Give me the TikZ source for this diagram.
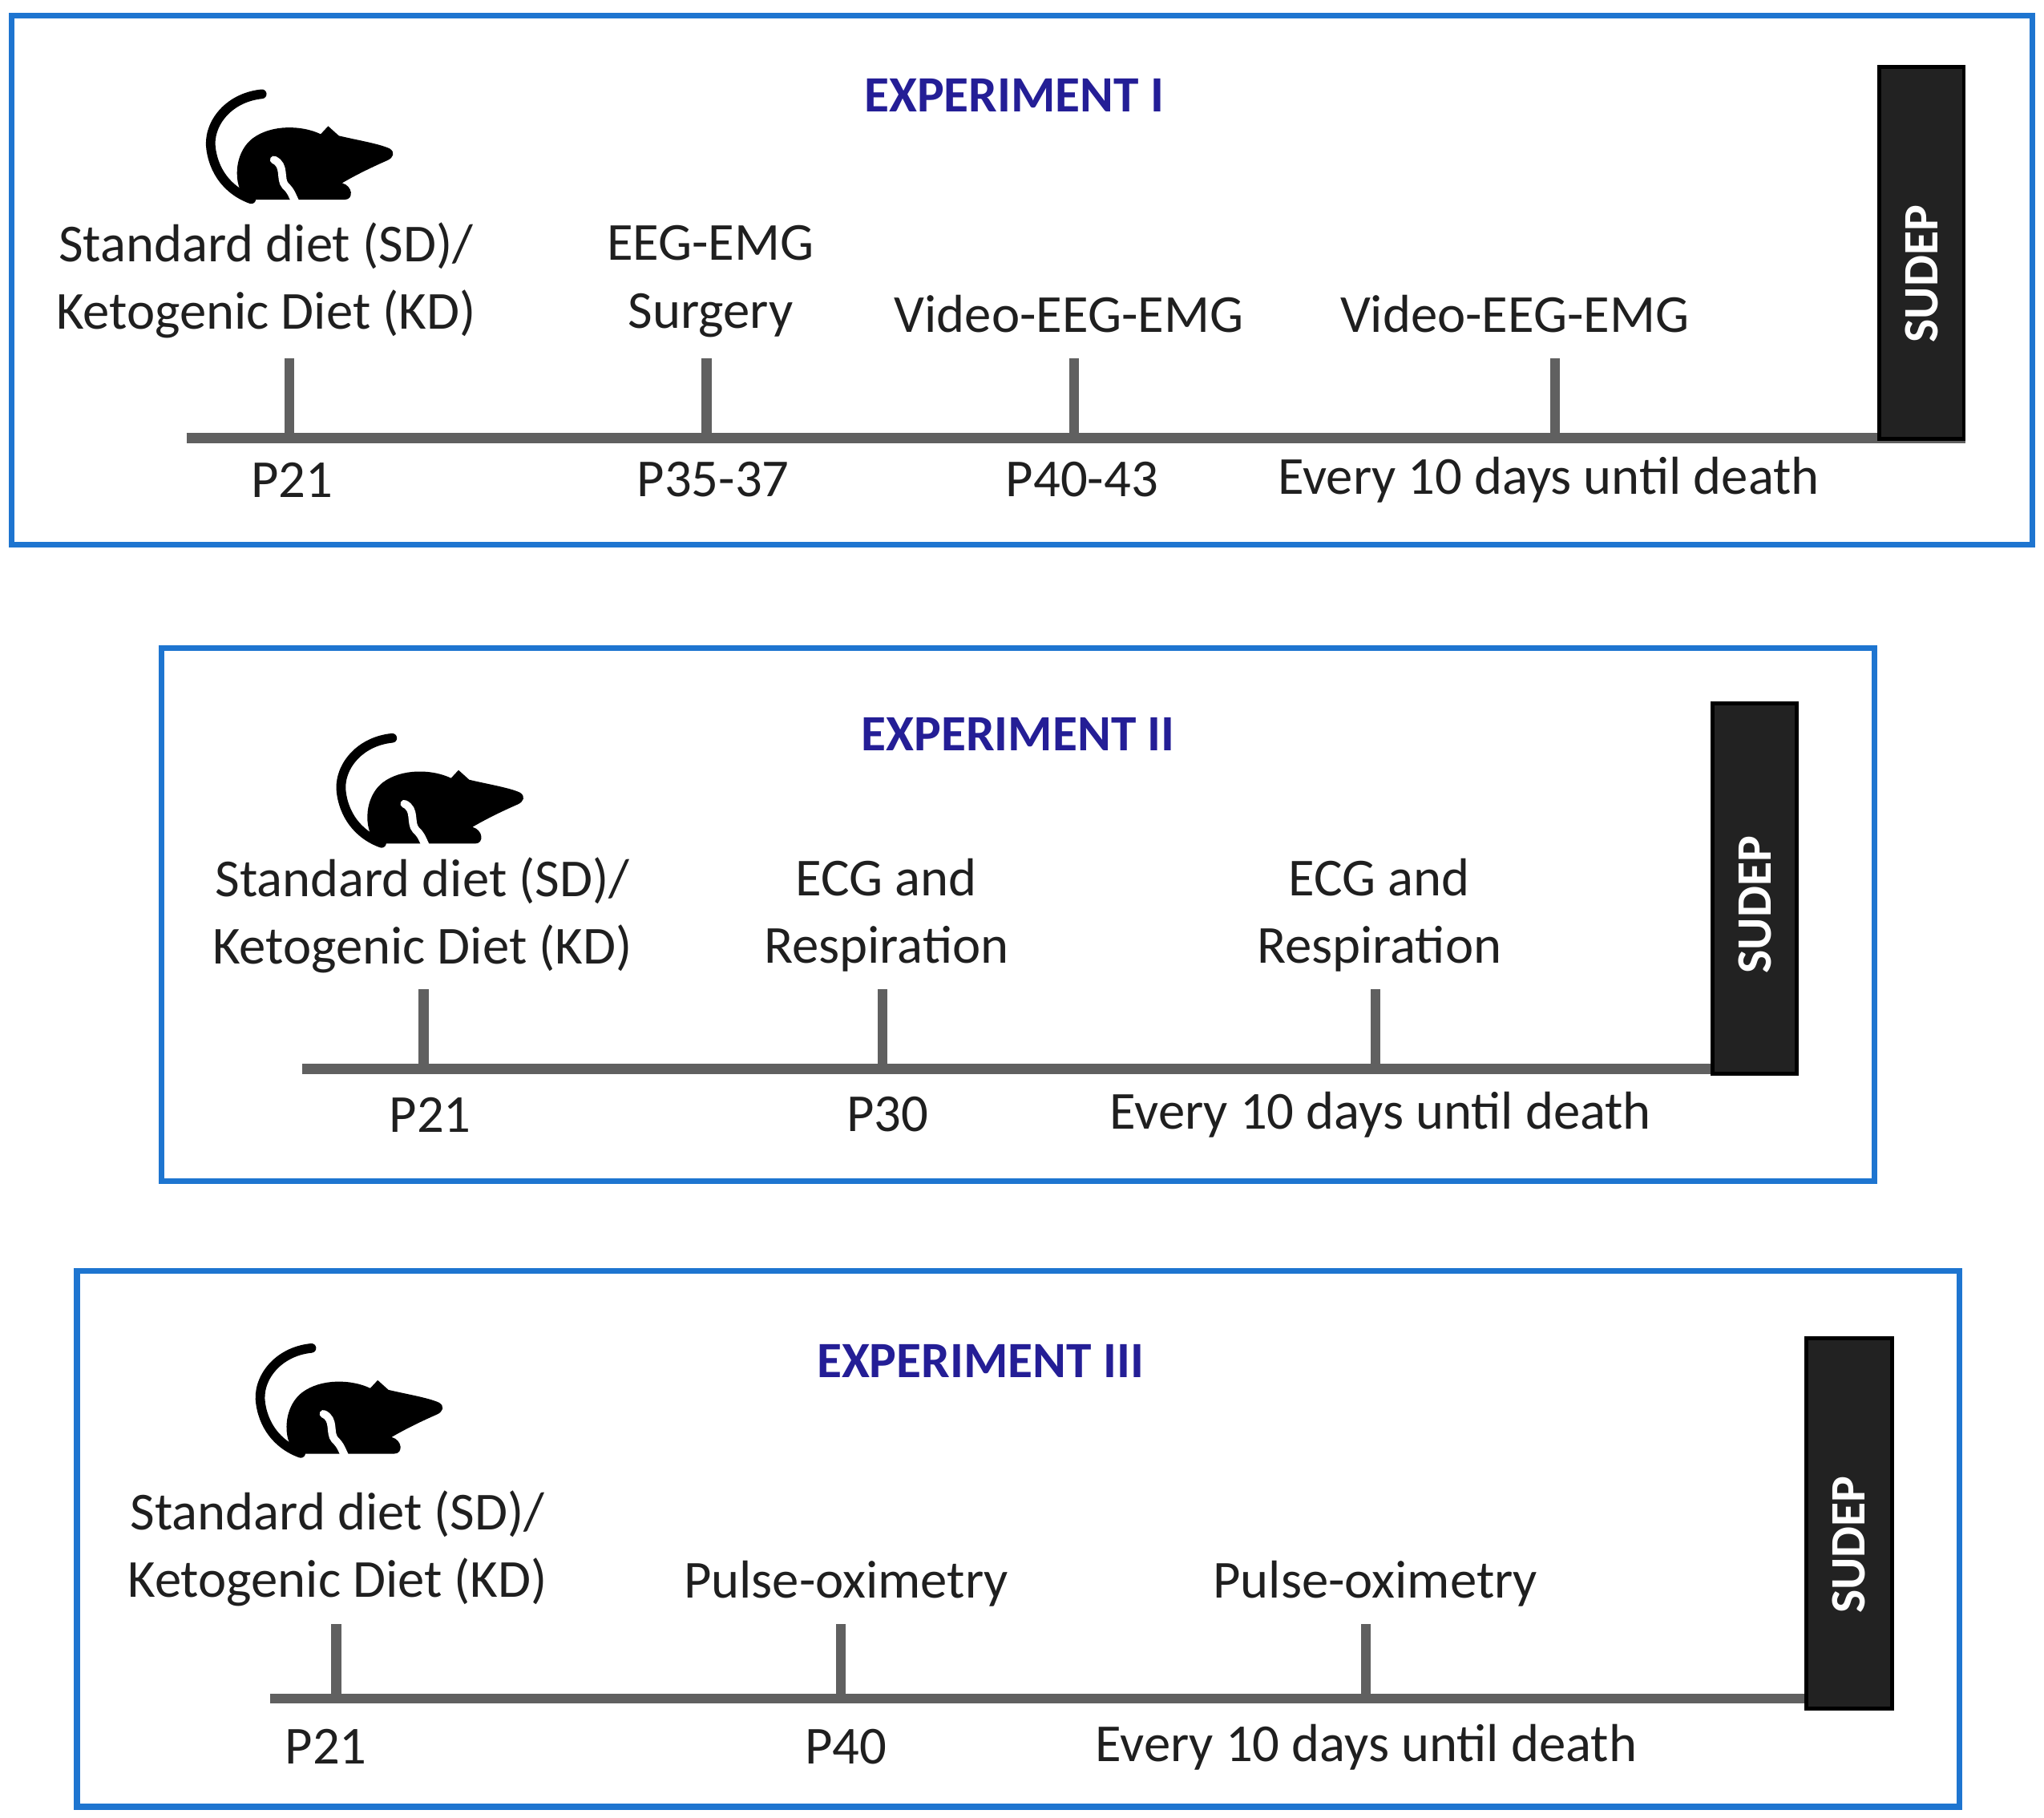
\documentclass[tikz,border=0pt]{standalone}
\usepackage{fontspec}
\setmainfont{Carlito}
\definecolor{frameblue}{RGB}{30,117,208}
\definecolor{titleblue}{RGB}{36,30,150}
\definecolor{linegray}{RGB}{96,96,96}
\definecolor{boxdark}{RGB}{34,34,34}
\tikzset{
  expframe/.style={draw=frameblue, line width=4.5pt},
  ttl/.style={text=titleblue, font=\fontsize{39}{46}\selectfont\bfseries, inner sep=0pt},
  lbl/.style={font=\fontsize{41}{52}\selectfont, text=black!88, align=center, inner sep=0pt},
  tl/.style={draw=linegray, line width=7.5pt},
  sudepbox/.style={draw=black, fill=boxdark, line width=3pt, anchor=north west, inner sep=0pt},
  sudeptxt/.style={text=white, rotate=90, font=\fontsize{38}{44}\selectfont\bfseries, inner sep=0pt},
  mouse/.pic={
    \begin{scope}[scale=0.205]
      \draw[line width=7.2pt, line cap=round] (380,112) .. controls (250,125) and (175,230) .. (190,320) .. controls (205,420) and (270,480) .. (340,505);
      \fill (330,507) .. controls (275,480) and (265,340) .. (345,278) .. controls (415,225) and (530,228) .. (600,262) -- (628,232) -- (668,268) .. controls (740,285) and (820,298) .. (858,316) .. controls (880,330) and (872,350) .. (850,360) .. controls (800,382) and (740,410) .. (680,445) .. controls (720,455) and (725,507) .. (690,507) -- cycle;
      \draw[white, line width=6pt, line cap=round] (425,358) .. controls (470,378) and (445,430) .. (468,455) .. controls (490,475) and (495,495) .. (505,515);
    \end{scope}
  }
}
\begin{document}
\begin{tikzpicture}[x=1pt, y=-1pt]
\useasboundingbox (0,0) rectangle (1568,1394);

% ---------------- Experiment I ----------------
\draw[expframe] (9,12) rectangle (1559,418);
\node[ttl] (title1) at (778,73) {EXPERIMENT I};
\pic at (123,49.2) {mouse};
\coordinate (a1s) at (143,336);
\coordinate (a1e) at (1508,336);
\draw[tl] (a1s) -- (a1e);
\coordinate (a1k1) at (222,336);
\coordinate (a1k2) at (542,336);
\coordinate (a1k3) at (824,336);
\coordinate (a1k4) at (1193,336);
\foreach \k in {a1k1,a1k2,a1k3,a1k4} \draw[tl] (\k) -- ++(0,-61);
\node[lbl] (d1) at (204,215) {Standard diet (SD)/\\Ketogenic Diet (KD)};
\node[lbl] (e1) at (545,216) {EEG-EMG\\Surgery};
\node[lbl] (v1) at (820,241) {Video-EEG-EMG};
\node[lbl] (v2) at (1162,241) {Video-EEG-EMG};
\node[lbl] (p1a) at (224,368) {P21};
\node[lbl] (p1b) at (547,368) {P35-37};
\node[lbl] (p1c) at (830,368) {P40-43};
\node[lbl] (p1d) at (1188,368) {Every 10 days until death};
\node[sudepbox, minimum width=65pt, minimum height=285pt] (s1) at (1440,50) {};
\node[sudeptxt] (s1t) at (1474,210) {SUDEP};

% ---------------- Experiment II ----------------
\draw[expframe] (124,497) rectangle (1438,906);
\node[ttl] (title2) at (781,563) {EXPERIMENT II};
\pic at (223,543.2) {mouse};
\coordinate (a2s) at (232,820);
\coordinate (a2e) at (1380,820);
\draw[tl] (a2s) -- (a2e);
\coordinate (a2k1) at (325,820);
\coordinate (a2k2) at (677,820);
\coordinate (a2k3) at (1055,820);
\foreach \k in {a2k1,a2k2,a2k3} \draw[tl] (\k) -- ++(0,-61);
\node[lbl] (d2) at (324,702) {Standard diet (SD)/\\Ketogenic Diet (KD)};
\node[lbl] (c1) at (680,702) {ECG and\\Respiration};
\node[lbl] (c2) at (1058,702) {ECG and\\Respiration};
\node[lbl] (p2a) at (330,855) {P21};
\node[lbl] (p2b) at (681,855) {P30};
\node[lbl] (p2c) at (1059,855) {Every 10 days until death};
\node[sudepbox, minimum width=65pt, minimum height=284pt] (s2) at (1312,538) {};
\node[sudeptxt] (s2t) at (1346,694) {SUDEP};

% ---------------- Experiment III ----------------
\draw[expframe] (59,975) rectangle (1503,1386);
\node[ttl] (title3) at (752,1044) {EXPERIMENT III};
\pic at (161,1011.2) {mouse};
\coordinate (a3s) at (207,1303);
\coordinate (a3e) at (1385,1303);
\draw[tl] (a3s) -- (a3e);
\coordinate (a3k1) at (258,1303);
\coordinate (a3k2) at (645,1303);
\coordinate (a3k3) at (1048,1303);
\foreach \k in {a3k1,a3k2,a3k3} \draw[tl] (\k) -- ++(0,-57);
\node[lbl] (d3) at (259,1188) {Standard diet (SD)/\\Ketogenic Diet (KD)};
\node[lbl] (o1) at (649,1215) {Pulse-oximetry};
\node[lbl] (o2) at (1055,1215) {Pulse-oximetry};
\node[lbl] (p3a) at (250,1340) {P21};
\node[lbl] (p3b) at (649,1340) {P40};
\node[lbl] (p3c) at (1048,1340) {Every 10 days until death};
\node[sudepbox, minimum width=66pt, minimum height=284pt] (s3) at (1384,1025) {};
\node[sudeptxt] (s3t) at (1418,1185) {SUDEP};
\end{tikzpicture}
\end{document}
